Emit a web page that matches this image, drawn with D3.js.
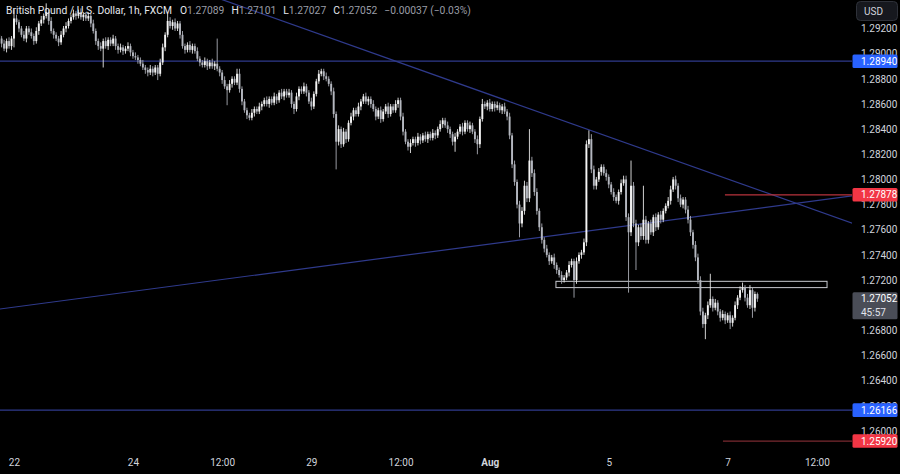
<!DOCTYPE html>
<html><head><meta charset="utf-8">
<script src="https://cdn.jsdelivr.net/npm/d3@7"></script>
<style>html,body{margin:0;padding:0;background:#000;overflow:hidden}svg{display:block}</style>
</head><body>
<svg id="c" width="900" height="474"></svg>
<script>
// ---------- DATA ----------
const firstOpen = 1.2915;
const closes = [
1.2912,1.2908,1.2904,1.2910,1.2906,1.2912,1.2928,1.2925,1.2920,1.2915,
1.2912,1.2920,1.2917,1.2914,1.2910,1.2918,1.2924,1.2927,1.2930,1.2933,
1.2926,1.2918,1.2915,1.2912,1.2909,1.2915,1.2920,1.2922,1.2926,1.2929,
1.2932,1.2930,1.2933,1.2929,1.2931,1.2928,1.2930,1.2924,1.2918,1.2910,
1.2906,1.2904,1.2910,1.2906,1.2911,1.2908,1.2912,1.2906,1.2903,1.2905,
1.2902,1.2904,1.2906,1.2901,1.2898,1.2897,1.2895,1.2892,1.2889,1.2887,
1.2885,1.2888,1.2885,1.2889,1.2884,1.2893,1.2905,1.2915,1.2926,1.2922,
1.2925,1.2920,1.2924,1.2915,1.2906,1.2903,1.2907,1.2903,1.2906,1.2902,
1.2896,1.2893,1.2891,1.2894,1.2890,1.2893,1.2890,1.2892,1.2888,1.2885,
1.2879,1.2874,1.2871,1.2876,1.2880,1.2877,1.2884,1.2872,1.2862,1.2855,
1.2851,1.2849,1.2853,1.2856,1.2854,1.2858,1.2860,1.2863,1.2860,1.2864,
1.2861,1.2866,1.2863,1.2869,1.2866,1.2870,1.2867,1.2869,1.2860,1.2856,
1.2866,1.2872,1.2870,1.2874,1.2869,1.2862,1.2858,1.2868,1.2878,1.2884,
1.2886,1.2882,1.2880,1.2876,1.2870,1.2852,1.2830,1.2840,1.2828,1.2838,
1.2832,1.2845,1.2850,1.2855,1.2852,1.2858,1.2862,1.2866,1.2862,1.2864,
1.2860,1.2856,1.2850,1.2855,1.2848,1.2854,1.2858,1.2852,1.2858,1.2855,
1.2860,1.2863,1.2850,1.2838,1.2830,1.2826,1.2829,1.2832,1.2829,1.2834,
1.2831,1.2835,1.2832,1.2836,1.2833,1.2837,1.2835,1.2840,1.2844,1.2847,
1.2843,1.2840,1.2836,1.2830,1.2834,1.2838,1.2842,1.2838,1.2845,1.2840,
1.2843,1.2838,1.2832,1.2828,1.2848,1.2860,1.2858,1.2861,1.2856,1.2860,
1.2857,1.2859,1.2855,1.2858,1.2854,1.2850,1.2835,1.2812,1.2798,1.2780,
1.2765,1.2775,1.2795,1.2785,1.2815,1.2805,1.2790,1.2775,1.2762,1.2752,
1.2745,1.2740,1.2735,1.2738,1.2732,1.2728,1.2724,1.2720,1.2722,1.2726,
1.2732,1.2735,1.2720,1.2735,1.2740,1.2742,1.2750,1.2828,1.2832,1.2808,
1.2795,1.2800,1.2806,1.2810,1.2805,1.2802,1.2796,1.2790,1.2786,1.2783,
1.2790,1.2797,1.2800,1.2770,1.2758,1.2795,1.2765,1.2750,1.2762,1.2755,
1.2768,1.2752,1.2765,1.2758,1.2770,1.2762,1.2772,1.2768,1.2775,1.2779,
1.2783,1.2792,1.2800,1.2795,1.2785,1.2780,1.2784,1.2776,1.2768,1.2758,
1.2748,1.2738,1.2720,1.2695,1.2685,1.2692,1.2700,1.2705,1.2698,1.2702,
1.2695,1.2690,1.2693,1.2688,1.2692,1.2686,1.2690,1.2700,1.2706,1.2712,
1.2714,1.2706,1.2700,1.2712,1.2698,1.27089,1.27052];
// wick beyond the body, in pips (0.0001)
const wickUp = [
3,2,3,2,3,2,7,3,2,2, 3,2,2,3,2,3,2,3,2,7, 2,3,2,2,2,3,2,3,2,2, 3,2,2,3,2,2,3,2,3,2,
2,3,2,3,2,2,3,2,2,3, 2,2,3,2,2,3,2,2,3,2, 2,3,2,2,2,3,3,2,6,3, 2,3,2,2,3,2,2,3,2,2,
3,2,2,3,2,2,3,2,20,2, 2,3,2,3,2,2,4,4,2,2, 2,2,3,2,2,3,2,2,3,2, 2,3,2,2,3,2,2,3,2,2,
3,2,2,3,2,2,3,2,2,3, 2,2,3,2,2,3,2,3,2,3, 2,2,3,2,2,3,2,2,3,2, 2,3,2,2,3,2,2,3,2,2,
3,2,2,3,2,2,3,2,2,3, 2,2,3,2,2,3,2,2,3,2, 2,3,2,2,3,2,2,3,2,2, 3,2,2,3,2,4,2,2,3,2,
2,3,2,2,3,2,3,2,3,2, 3,3,4,3,25,3,3,3,2,3, 2,3,2,2,3,2,2,3,2,2, 3,2,2,3,2,2,3,3,7,4,
3,2,3,2,2,3,2,2,3,2, 2,3,3,3,3,20,3,3,2,3, 27,3,2,3,2,3,2,3,2,2, 3,3,2,3,2,3,2,2,3,3,
2,3,3,3,3,2,3,20,2,3, 2,2,3,2,2,3,2,3,2,3, 4,2,3,4,2,2,1.2];
const wickDown = [
2,3,2,3,2,3,7,2,3,2, 2,3,2,2,3,2,3,2,3,2, 3,2,3,2,3,2,2,3,2,2, 2,3,2,2,3,2,2,3,2,3,
3,2,15,2,3,2,2,3,3,2, 3,2,2,3,2,2,3,2,2,3, 3,2,3,2,5,2,2,3,2,2, 3,2,2,3,2,3,2,2,3,2,
2,3,2,2,3,2,2,3,2,3, 3,2,12,2,3,2,2,3,3,2, 3,2,2,3,2,2,3,2,2,3, 2,2,3,2,2,3,2,2,3,4,
2,3,2,2,3,2,3,2,2,2, 2,3,2,2,3,3,22,3,3,2, 3,2,2,3,2,2,3,2,2,3, 3,2,3,2,3,2,2,3,2,2,
2,3,3,3,2,3,5,2,3,2, 3,2,2,3,2,2,3,2,2,3, 2,3,3,3,8,2,2,3,2,2, 3,2,3,8,3,2,2,3,2,2,
3,2,2,3,2,3,3,3,3,3, 11,3,3,3,3,3,3,3,3,3, 3,2,3,2,3,3,2,3,2,2, 3,2,14,3,2,3,2,3,3,3,
3,3,2,3,2,3,3,2,3,2, 3,2,2,3,48,3,3,22,3,3, 3,3,3,2,3,3,2,3,2,2, 2,3,2,3,3,2,3,3,3,3,
3,3,3,3,3,12,3,2,3,2, 3,3,2,3,2,5,3,2,3,2, 2,3,2,3,8,3,2.5];

const timeLabels = ["22","24","12:00","29","12:00","Aug","5","7","12:00"];
const timeLabelBars = [6,54,90,126,162,198,246,294,330];
// 1.27000 is hidden behind the last-price label in the reference
const priceTicks = [1.292,1.290,1.288,1.286,1.284,1.282,1.280,1.278,1.276,1.274,1.272,1.268,1.266,1.264,1.262,1.260];

const blueLevels = [1.28940, 1.26166];
const redLevels = [{price:1.27878, fromBar:292.9}, {price:1.25920, fromBar:292.1}];
const trendLines = [
  [[121.4, 1.2921], [344.6, 1.2765]],
  [[0.35, 1.2697], [344.6, 1.2787]]
];
const zone = {bar0:224.7, bar1:334.1, top:1.2719, bottom:1.2714};
const lastPrice = 1.27052, countdown = "45:57";
const header = {title:"British Pound / U.S. Dollar, 1h, FXCM", O:"1.27089", H:"1.27101", L:"1.27027", C:"1.27052", chg:"\u22120.00037 (\u22120.03%)"};

// ---------- BUILD ----------
const candles = closes.map((c,i)=>{
  const o = i===0 ? firstOpen : closes[i-1];
  return {i, o, c, h: Math.max(o,c)+wickUp[i]/10000, l: Math.min(o,c)-wickDown[i]/10000};
});

const W=900,H=474, plotR=852, plotB=450;
const FONT = "Roboto, 'Noto Sans', sans-serif";
const svg = d3.select("#c");
svg.append("rect").attr("width",W).attr("height",H).attr("fill","#000");

const x = d3.scaleLinear().domain([0,306]).range([-0.87,757.4]);
const y = d3.scaleLinear().domain([1.260,1.292]).range([431,28.5]);

svg.append("defs").append("clipPath").attr("id","plot")
  .append("rect").attr("x",0).attr("y",0).attr("width",plotR).attr("height",plotB);
const g = svg.append("g").attr("clip-path","url(#plot)");

// horizontal blue levels
g.selectAll("line.blv").data(blueLevels).join("line")
  .attr("x1",0).attr("x2",plotR).attr("y1",d=>y(d)).attr("y2",d=>y(d))
  .attr("stroke","#2f3a8c").attr("stroke-width",1.2);

// trend lines (extended to the left)
const line = d3.line().x(d=>x(d[0])).y(d=>y(d[1]));
trendLines.forEach(tl=>{
  const [a,b]=tl;
  const s=(b[1]-a[1])/(b[0]-a[0]);
  const ext=[[a[0]-80, a[1]-80*s],[b[0],b[1]]];
  g.append("path").attr("d",line(ext)).attr("fill","none")
    .attr("stroke","#2f3a8c").attr("stroke-width",1.2);
});

// red levels
g.selectAll("line.rlv").data(redLevels).join("line")
  .attr("x1",d=>x(d.fromBar)).attr("x2",plotR).attr("y1",d=>y(d.price)).attr("y2",d=>y(d.price))
  .attr("stroke",(d,i)=>i===0?"#b8333d":"#7a2a30").attr("stroke-width",1.2);

// zone rectangle
g.append("rect").attr("x",x(zone.bar0)).attr("y",y(zone.top))
  .attr("width",x(zone.bar1)-x(zone.bar0)).attr("height",y(zone.bottom)-y(zone.top))
  .attr("fill","none").attr("stroke","#c8cad0").attr("stroke-width",1);

// candles
const cg = g.append("g");
cg.selectAll("line.wick").data(candles).join("line")
  .attr("x1",d=>x(d.i)).attr("x2",d=>x(d.i)).attr("y1",d=>y(d.h)).attr("y2",d=>y(d.l))
  .attr("stroke",d=>d.c>=d.o?"#e8e8e8":"#a9acb4").attr("stroke-width",0.9);
cg.selectAll("rect.body").data(candles).join("rect")
  .attr("x",d=>x(d.i)-0.95).attr("width",1.9)
  .attr("y",d=>y(Math.max(d.o,d.c)))
  .attr("height",d=>Math.max(0.8, y(Math.min(d.o,d.c))-y(Math.max(d.o,d.c))))
  .attr("fill",d=>d.c>=d.o?"#f4f4f4":"#b4b7bf");

// price axis
const ya = svg.append("g").attr("transform",`translate(${plotR},0)`)
  .call(d3.axisRight(y).tickValues(priceTicks).tickFormat(d3.format(".5f")).tickSize(0).tickPadding(9));
ya.select(".domain").remove();
ya.selectAll("text").attr("fill","#d1d4dc").attr("font-family",FONT).attr("font-size","10px");

// time axis
const xa = svg.append("g").attr("transform",`translate(0,456)`)
  .call(d3.axisBottom(x).tickValues(timeLabelBars).tickFormat((d,i)=>timeLabels[i]).tickSize(0).tickPadding(3));
xa.select(".domain").remove();
xa.selectAll("text").attr("fill","#d1d4dc").attr("font-family",FONT).attr("font-size","10px")
  .attr("font-weight",(d,i)=>timeLabels[i]==="Aug"?"bold":"normal");

// axis label boxes
function priceBox(p, fill){
  const cy=y(p);
  svg.append("rect").attr("x",852.5).attr("y",cy-6.8).attr("width",45).attr("height",13.6).attr("rx",1.5).attr("fill",fill);
  svg.append("text").attr("x",861).attr("y",cy).attr("dy","0.35em").attr("fill","#fff")
    .attr("font-family",FONT).attr("font-size","10px").text(d3.format(".5f")(p));
}
priceBox(blueLevels[0],"#2962ff");
priceBox(blueLevels[1],"#2962ff");
priceBox(redLevels[0].price,"#f23645");
priceBox(redLevels[1].price,"#f23645");
// last price + countdown
{
  const cy=y(lastPrice);
  svg.append("rect").attr("x",852.5).attr("y",cy-6.5).attr("width",45).attr("height",27).attr("rx",1.5).attr("fill","#4a4d57");
  svg.append("text").attr("x",861).attr("y",cy).attr("dy","0.35em").attr("fill","#fff")
    .attr("font-family",FONT).attr("font-size","10px").text(d3.format(".5f")(lastPrice));
  svg.append("text").attr("x",861).attr("y",cy+13.5).attr("dy","0.35em").attr("fill","#e0e3eb")
    .attr("font-family",FONT).attr("font-size","10px").text(countdown);
}
// USD box
svg.append("rect").attr("x",856.5).attr("y",1.5).attr("width",41).attr("height",19).attr("rx",4)
  .attr("fill","#16181e").attr("stroke","#2e3139");
svg.append("text").attr("x",864).attr("y",11).attr("dy","0.35em").attr("fill","#d1d4dc")
  .attr("font-family",FONT).attr("font-size","10px").text("USD");

// header
const ht = svg.append("text").attr("x",6).attr("y",14).attr("font-family",FONT).attr("font-size","10.3px");
ht.append("tspan").attr("fill","#e6e8ee").text(header.title);
[["O",header.O],["H",header.H],["L",header.L],["C",header.C]].forEach(([k,v],i)=>{
  ht.append("tspan").attr("fill","#e6e8ee").attr("dx", i===0?8:7).text(k);
  ht.append("tspan").attr("fill","#9a9da6").text(v);
});
ht.append("tspan").attr("fill","#9a9da6").attr("dx",7).text(header.chg);
</script>
</body></html>
